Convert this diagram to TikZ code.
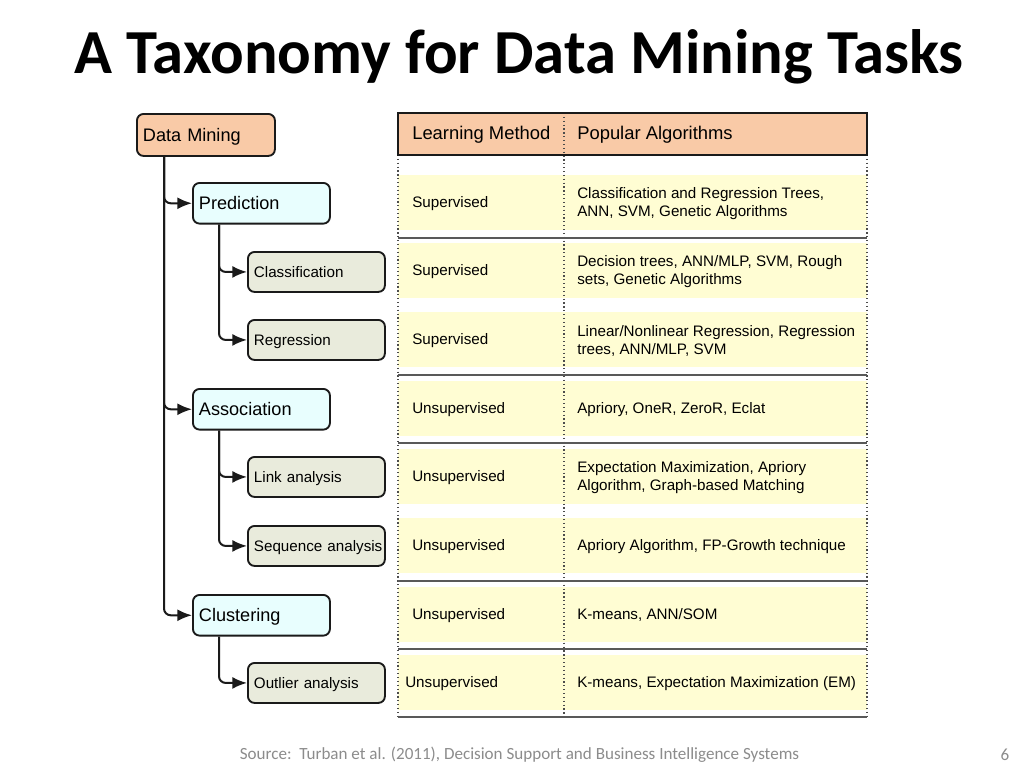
\documentclass[tikz,border=0pt]{standalone}
\usepackage{fontspec}
\setmainfont{Liberation Sans}
\newfontfamily\calibri{Carlito}
\usetikzlibrary{arrows.meta}
\definecolor{peach}{HTML}{F9CAA7}
\definecolor{cyanl}{HTML}{E8FEFE}
\definecolor{sage}{HTML}{E9EBDC}
\definecolor{band}{HTML}{FFFDD3}
\definecolor{foot}{HTML}{8C8C8C}
\definecolor{edge}{HTML}{1A1A1A}
\begin{document}
\begin{tikzpicture}[x=0.75pt,y=-0.75pt,
  tbox/.style={draw=edge, line width=1.4pt, rounded corners=5pt, anchor=north west,
    inner ysep=0pt, inner xsep=4.5pt, align=left, text width=93.75pt, minimum height=30.5pt},
  dmbox/.style={tbox, fill=peach, text width=94.5pt, minimum height=31.5pt, font=\fontsize{13.6}{16}\selectfont, text height=12.9pt, text depth=3.1pt},
  lone/.style={tbox, fill=cyanl, font=\fontsize{13.6}{16}\selectfont, text height=12.9pt, text depth=3.1pt},
  ltwo/.style={tbox, fill=sage, minimum height=30pt, font=\fontsize{11.4}{13.5}\selectfont, text height=10.8pt, text depth=2.6pt},
  conn/.style={line width=1.5pt, draw=edge, rounded corners=5pt, -{Latex[length=11pt,width=9pt]}},
  cell/.style={anchor=west, inner sep=0pt, align=left, font=\fontsize{11.4}{13.5}\selectfont, yshift=-1.5pt},
  cellone/.style={anchor=west, inner sep=0pt, font=\fontsize{11.4}{13.5}\selectfont, text height=10.8pt, text depth=2.6pt},
  head/.style={anchor=west, inner sep=0pt, font=\fontsize{13.8}{16}\selectfont, text height=13.1pt, text depth=3.2pt},
  sep/.style={line width=1.5pt, draw=black!65},
  vdot/.style={dotted, line width=0.9pt, draw=black!70}
]
\useasboundingbox (0,0) rectangle (1024,768);
\fill[white] (0,0) rectangle (1024,768);

% title
\node[font=\calibri\bfseries\fontsize{47}{52}\selectfont, inner sep=0pt] (title) at (519,57) {A Taxonomy for Data Mining Tasks};

% table background
\fill[peach] (398,113) rectangle (867,155);
\foreach \c in {202,270,339,408,476,545,614,682}{
  \fill[band] (398,\c-27) rectangle (867,\c+28);
}
\draw[vdot] (398,155) -- (398,717);
\draw[vdot] (867,155) -- (867,717);
\draw[vdot] (564,113) -- (564,717);
\draw[line width=1.3pt, draw=edge] (398,113) rectangle (867,155);
\foreach \y in {238,375,443,581,649,717}{
  \draw[sep] (398,\y) -- (867,\y);
}

% header
\node[head] (hm) at (412,133) {Learning Method};
\node[head] (ha) at (577,133) {Popular Algorithms};

% rows
\node[cellone] (m1) at (412,202) {Supervised};
\node[cell] (a1) at (577,202) {Classification and Regression Trees,\\ANN, SVM, Genetic Algorithms};
\node[cellone] (m2) at (412,270) {Supervised};
\node[cell] (a2) at (577,270) {Decision trees, ANN/MLP, SVM, Rough\\sets, Genetic Algorithms};
\node[cellone] (m3) at (412,339) {Supervised};
\node[cell] (a3) at (577,339) {Linear/Nonlinear Regression, Regression\\trees, ANN/MLP, SVM};
\node[cellone] (m4) at (412,408) {Unsupervised};
\node[cellone] (a4) at (577,408) {Apriory, OneR, ZeroR, Eclat};
\node[cellone] (m5) at (412,476) {Unsupervised};
\node[cell] (a5) at (577,476) {Expectation Maximization, Apriory\\Algorithm, Graph-based Matching};
\node[cellone] (m6) at (412,545) {Unsupervised};
\node[cellone] (a6) at (577,545) {Apriory Algorithm, FP-Growth technique};
\node[cellone] (m7) at (412,614) {Unsupervised};
\node[cellone] (a7) at (577,614) {K-means, ANN/SOM};
\node[cellone] (m8) at (405,682) {Unsupervised};
\node[cellone] (a8) at (577,682) {K-means, Expectation Maximization (EM)};

% tree
\node[dmbox] (dm) at (136,113) {Data Mining};
\node[lone] (pred) at (192,182) {Prediction};
\node[ltwo] (cls) at (247,251) {Classification};
\node[ltwo] (reg) at (247,319) {Regression};
\node[lone] (assoc) at (192,388) {Association};
\node[ltwo] (link) at (247,456) {Link analysis};
\node[ltwo] (seq) at (247,525) {\mbox{Sequence analysis}};
\node[lone] (clus) at (192,594) {Clustering};
\node[ltwo] (out) at (247,662) {Outlier analysis};

\draw[conn] ([xshift=21pt]dm.south west) |- (pred.west);
\draw[conn] ([xshift=21pt]dm.south west) |- (assoc.west);
\draw[conn] ([xshift=21pt]dm.south west) |- (clus.west);
\draw[conn] ([xshift=20.25pt]pred.south west) |- (cls.west);
\draw[conn] ([xshift=20.25pt]pred.south west) |- (reg.west);
\draw[conn] ([xshift=20.25pt]assoc.south west) |- (link.west);
\draw[conn] ([xshift=20.25pt]assoc.south west) |- (seq.west);
\draw[conn] ([xshift=20.25pt]clus.south west) |- (out.west);

% footer
\node[font=\calibri\fontsize{12.8}{15}\selectfont, text=foot, inner sep=0pt] (src) at (519.5,755) {Source:\ \ Turban et al. (2011), Decision Support and Business Intelligence Systems};
\node[font=\calibri\fontsize{12.8}{15}\selectfont, text=foot, inner sep=0pt] (pg) at (1005,755) {6};
\end{tikzpicture}
\end{document}
